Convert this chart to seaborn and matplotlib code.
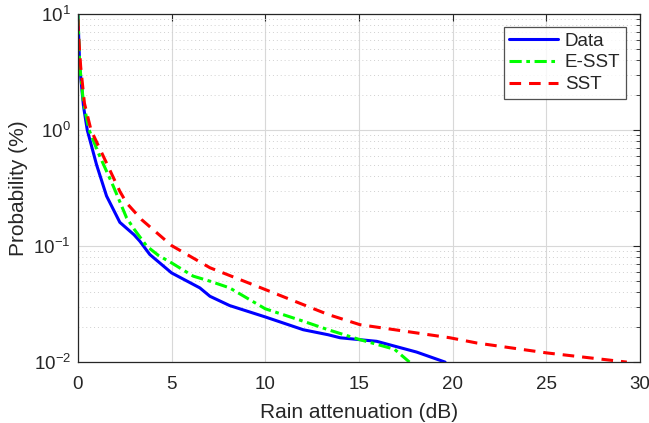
import numpy as np
import pandas as pd
import matplotlib
matplotlib.use('Agg')
import matplotlib.pyplot as plt
import seaborn as sns
from matplotlib.ticker import LogLocator, NullFormatter, FixedLocator

# values (x in dB, probability in %)
data_x = [0, 0.1, 0.3, 0.5, 1.0, 1.53, 2.24, 3.0, 3.31, 3.84, 5.0, 6.51, 7.05, 8.1, 10.0, 12.03, 13.36, 14.0, 15.95, 18.08, 19.6]
data_p = [10, 3.5, 1.6, 1.0, 0.5, 0.27, 0.16, 0.125, 0.11, 0.0845, 0.0587, 0.0436, 0.0369, 0.0307, 0.0245, 0.019, 0.0172, 0.0162, 0.0151, 0.0122, 0.01]

esst_x = [0, 0.1, 0.3, 0.6, 1.09, 1.89, 2.6, 3.0, 3.67, 4.3, 5.0, 6.16, 7.05, 8.1, 10.0, 12.03, 13.36, 15.06, 16.9, 17.7]
esst_p = [10, 3.6, 1.7, 1.0, 0.635, 0.328, 0.175, 0.14, 0.1, 0.083, 0.0716, 0.055, 0.0498, 0.0436, 0.0288, 0.0225, 0.019, 0.0156, 0.0129, 0.01]

sst_x = [0, 0.05, 0.15, 0.35, 0.7, 1.44, 2.24, 2.6, 3.4, 5.0, 7.05, 10.0, 13.36, 15.06, 19.86, 21.3, 25.02, 29.3]
sst_p = [9.0, 6.0, 3.5, 1.7, 1.0, 0.557, 0.296, 0.235, 0.169, 0.101, 0.065, 0.0422, 0.0257, 0.021, 0.0162, 0.0146, 0.012, 0.01]

sns.set_style('white')
plt.rcParams['font.family'] = ['Liberation Sans', 'DejaVu Sans']
plt.rcParams['mathtext.default'] = 'regular'

fig = plt.figure(figsize=(6.49, 4.23), dpi=100)
ax = fig.add_axes([0.120, 0.144, 0.866, 0.823])

axis_col = '#262626'
sns.lineplot(x=data_x, y=data_p, ax=ax, color=(0, 0, 1), lw=2.2, label='Data')
sns.lineplot(x=esst_x, y=esst_p, ax=ax, color=(0, 1, 0), lw=2.2, label='E-SST',
             linestyle=(0, (4, 1.5, 1.2, 1.5)))
sns.lineplot(x=sst_x, y=sst_p, ax=ax, color=(1, 0, 0), lw=2.2, label='SST',
             linestyle=(0, (3.8, 2.6)))

ax.set_yscale('log')
ax.set_xlim(0, 30)
ax.set_ylim(0.01, 10)
ax.xaxis.set_major_locator(FixedLocator([0, 5, 10, 15, 20, 25, 30]))
ax.yaxis.set_major_locator(FixedLocator([0.01, 0.1, 1, 10]))
ax.set_yticklabels(['$10^{-2}$', '$10^{-1}$', '$10^{0}$', '$10^{1}$'])
ax.yaxis.set_minor_locator(LogLocator(base=10, subs=np.arange(2, 10), numticks=20))
ax.yaxis.set_minor_formatter(NullFormatter())

ax.grid(True, which='major', color='#d8d8d8', lw=0.8)
ax.grid(True, which='minor', axis='y', color='#d0d0d0', lw=0.7, linestyle=(0, (1, 3)))

for s in ax.spines.values():
    s.set_color(axis_col)
    s.set_linewidth(0.9)
ax.tick_params(which='both', direction='in', top=True, right=True, color=axis_col,
               labelcolor=axis_col, labelsize=13.5)
ax.tick_params(which='major', length=5, pad=5)
ax.tick_params(which='minor', length=3)
ax.tick_params(axis='x', which='major', pad=10)

ax.set_xlabel('Rain attenuation (dB)', fontsize=15, color=axis_col, labelpad=7)
ax.set_ylabel('Probability (%)', fontsize=15, color=axis_col, labelpad=4)

leg = ax.legend(loc='upper right', bbox_to_anchor=(0.975, 0.963), fontsize=13.5,
                frameon=True, fancybox=False, handlelength=2.6, handletextpad=0.35,
                borderpad=0.3, labelspacing=0.25, borderaxespad=0)
leg.get_frame().set_edgecolor(axis_col)
leg.get_frame().set_linewidth(0.9)

fig.savefig('out.png', dpi=100)
